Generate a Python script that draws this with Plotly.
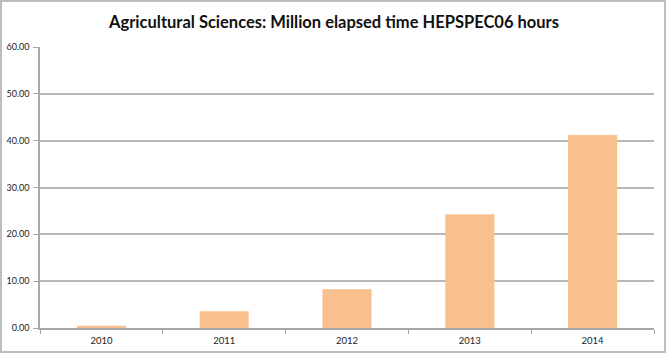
import plotly.graph_objects as go

years = ["2010", "2011", "2012", "2013", "2014"]
values = [0.5, 3.6, 8.3, 24.3, 41.2]
y_ticks = [0, 10, 20, 30, 40, 50, 60]
y_tick_labels = ["0.00", "10.00", "20.00", "30.00", "40.00", "50.00", "60.00"]

W, H = 668, 354
L, R, T, B = 40, 14, 47, 26
pw, ph = W - L - R, H - T - B

fig = go.Figure(go.Bar(x=years, y=values, marker=dict(color="#F9C08F", line=dict(width=0)),
                       hoverinfo="x+y"))

fig.update_layout(
    width=W, height=H,
    margin=dict(l=L, r=R, t=T, b=B),
    paper_bgcolor="white", plot_bgcolor="white",
    bargap=0.6,
    showlegend=False,
    font=dict(family="Lato, Liberation Sans, sans-serif", color="#222"),
    title=dict(text="<b>Agricultural Sciences: Million elapsed time HEPSPEC06 hours</b>",
               x=0.5, xanchor="center", y=1 - 22 / H, yanchor="middle",
               font=dict(size=16.5, color="#111", family="Lato, sans-serif")),
    xaxis=dict(type="category", showline=True, linecolor="#a8a8a8", linewidth=1.5,
               ticks="outside", tickson="boundaries", ticklen=4, tickcolor="#a8a8a8",
               ticklabelstandoff=3, automargin=False,
               tickfont=dict(size=9.5, color="#222"), showgrid=False),
    yaxis=dict(range=[0, 60], tickvals=y_ticks, ticktext=y_tick_labels,
               showline=True, linecolor="#a8a8a8", linewidth=1.5,
               ticks="outside", ticklen=5, tickcolor="#a8a8a8",
               ticklabelstandoff=2, automargin=False,
               showgrid=True, gridcolor="#b8b8b8", gridwidth=1.5,
               zeroline=False, tickfont=dict(size=9, color="#222")),
    shapes=[dict(type="rect", xref="paper", yref="paper",
                 x0=(1 - L) / pw, x1=(665 - L) / pw,
                 y0=-(352 - T - ph) / ph, y1=1 + (T - 1) / ph,
                 line=dict(color="#bdbdbd", width=2), fillcolor="rgba(0,0,0,0)", layer="below")],
)

fig.write_html("out.html")
